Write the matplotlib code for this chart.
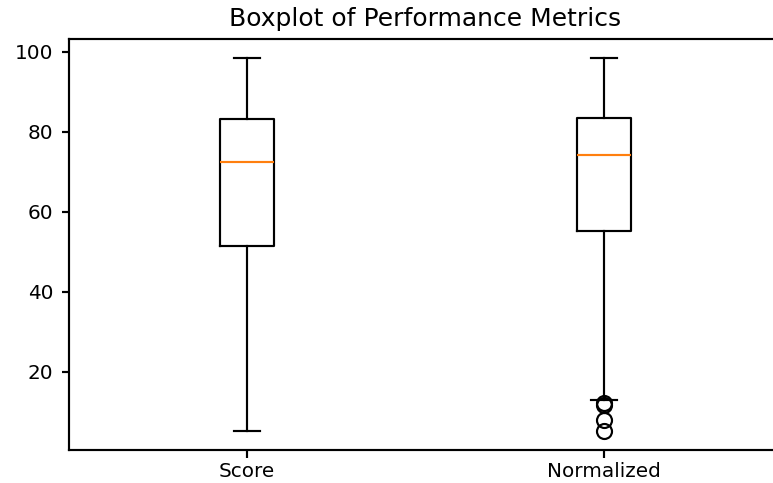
import matplotlib
matplotlib.use("Agg")
import matplotlib.pyplot as plt

# values
labels = ["Score", "Normalized"]
medians = [72.4, 74.1]
q1 = [51.5, 55.2]
q3 = [83.1, 83.4]
whislo = [5.1, 12.9]
whishi = [98.5, 98.5]
fliers = [[], [12.3, 11.6, 7.9, 5.2]]

stats = []
for i, lab in enumerate(labels):
    stats.append({
        "label": lab, "med": medians[i], "q1": q1[i], "q3": q3[i],
        "whislo": whislo[i], "whishi": whishi[i], "fliers": fliers[i],
    })

lw = 1.3
plt.rcParams["axes.linewidth"] = lw

fig = plt.figure(figsize=(773 / 120, 483 / 120), dpi=120)
# axes run a bit past the right edge, like the cropped reference
ax = fig.add_axes([68.5 / 773, 33 / 483, 714 / 773, 411 / 483])
ax.bxp(stats,
       boxprops={"linewidth": lw},
       whiskerprops={"linewidth": lw},
       capprops={"linewidth": lw},
       medianprops={"linewidth": lw, "color": "#ff7f0e"},
       flierprops={"markersize": 9, "markeredgewidth": lw})
ax.set_title("Boxplot of Performance Metrics", fontsize=15, pad=7.5)
ax.tick_params(axis="both", labelsize=12, length=4.5, width=lw)
ax.tick_params(axis="y", pad=4.5)
ax.tick_params(axis="x", pad=2.5)

fig.savefig("out.png", dpi=120)
